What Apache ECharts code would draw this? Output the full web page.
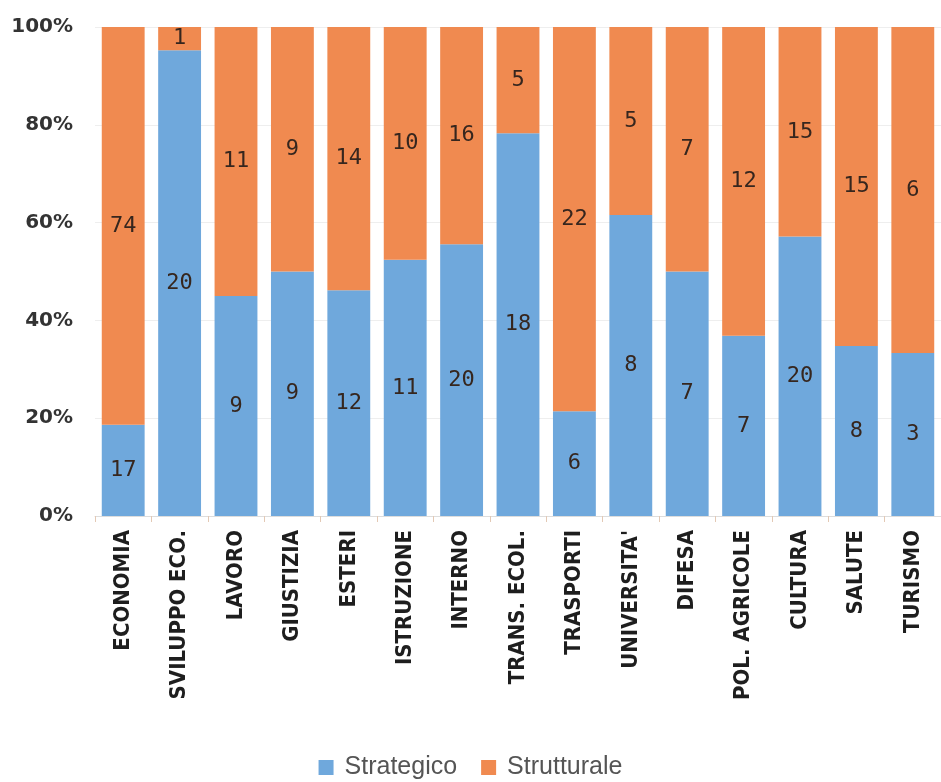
<!DOCTYPE html>
<html>
<head>
<meta charset="utf-8">
<script src="https://cdn.jsdelivr.net/npm/echarts@6/dist/echarts.min.js"></script>
<style>html,body{margin:0;padding:0;background:#fff;}#c{width:941px;height:782px;}</style>
</head>
<body>
<div id="c"></div>
<script>
const categories = ['ECONOMIA','SVILUPPO ECO.','LAVORO','GIUSTIZIA','ESTERI','ISTRUZIONE','INTERNO','TRANS. ECOL.','TRASPORTI',"UNIVERSITA'",'DIFESA','POL. AGRICOLE','CULTURA','SALUTE','TURISMO'];
const strategico = [17,20,9,9,12,11,20,18,6,8,7,7,20,8,3];
const strutturale = [74,1,11,9,14,10,16,5,22,5,7,12,15,15,6];
const seriesNames = ['Strategico','Strutturale'];
const yTicks = [0,20,40,60,80,100];

const totals = strategico.map((v,i)=>v+strutturale[i]);
const pct = arr => arr.map((v,i)=>v/totals[i]*100);

const chart = echarts.init(document.getElementById('c'));
const labelStyle = (arr) => ({
  show: true, position: 'inside',
  fontFamily: 'DejaVu Sans Mono', fontSize: 22, color: '#36261e',
  formatter: p => String(arr[p.dataIndex])
});
chart.setOption({
  animation: false,
  grid: {left: 95, top: 27, width: 852, bottom: 266},
  legend: {
    bottom: -3, left: 'center', itemWidth: 15, itemHeight: 15, itemGap: 24,
    icon: 'rect',
    textStyle: {fontFamily: 'Liberation Sans', fontSize: 25, color: '#555', padding: [0,0,0,6]},
    data: seriesNames
  },
  xAxis: {
    type: 'category', data: categories,
    axisLine: {lineStyle: {color: '#ddd'}},
    axisTick: {show: true, lineStyle: {color: '#e3c9b5'}, length: 6},
    axisLabel: {rotate: 90, fontFamily: 'DejaVu Sans Condensed', fontWeight: 'bold', fontSize: 22, color: '#1e1e1e', margin: 14, interval: 0}
  },
  yAxis: {
    type: 'value', min: 0, max: 100, interval: 20,
    axisLabel: {formatter: v => yTicks.includes(v) ? v + '%' : '', fontFamily: 'DejaVu Sans', fontWeight: 'bold', fontSize: 20, color: '#333', margin: 22},
    splitLine: {lineStyle: {color: '#eeeeee'}},
    axisLine: {show: false}, axisTick: {show: false}
  },
  series: [
    {name: seriesNames[0], type: 'bar', stack: 's', data: pct(strategico), barCategoryGap: '24%',
     itemStyle: {color: '#6fa8dc'}, label: labelStyle(strategico)},
    {name: seriesNames[1], type: 'bar', stack: 's', data: pct(strutturale), barCategoryGap: '24%',
     itemStyle: {color: '#f08a50'}, label: labelStyle(strutturale)}
  ]
});
</script>
</body>
</html>
